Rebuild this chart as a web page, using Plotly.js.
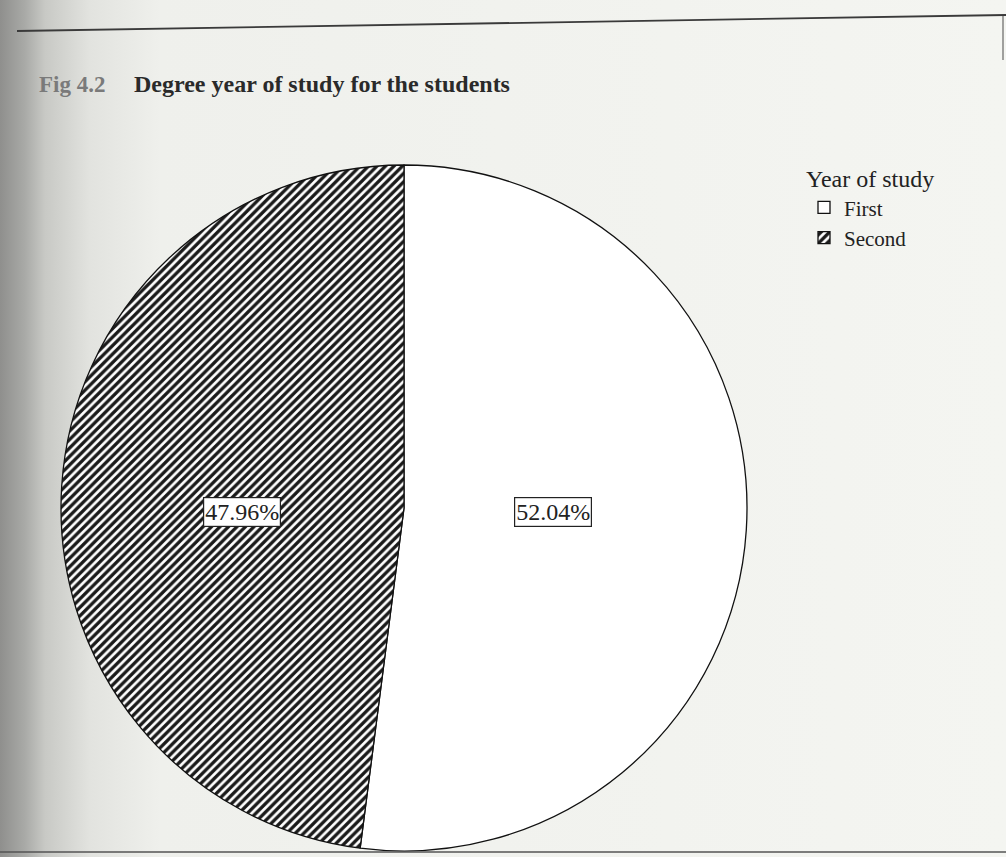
<!DOCTYPE html>
<html>
<head>
<meta charset="utf-8">
<script src="https://cdn.plot.ly/plotly-3.0.1.min.js"></script>
<style>
html,body{margin:0;padding:0;}
body{width:1006px;height:857px;background:linear-gradient(to right,#8f8f8d 0px,#a9aaa7 25px,#c8c9c5 45px,#e2e3df 90px,#eff0ec 160px,#f4f5f1 100%);}
#chart{width:1006px;height:857px;}
</style>
</head>
<body>
<div id="chart"></div>
<script>
const categories = ["First", "Second"];
const percentages = [52.04, 47.96];
const legendTitle = "Year of study";
const figLabel = "Fig 4.2";
const chartTitle = "Degree year of study for the students";

const W = 1006, H = 857;
const domX = [61 / W, 747 / W];
const domY = [6 / H, 692 / H];

// label positions derived from the data (slice centroid distance along mid-angle)
const total = percentages.reduce((a, b) => a + b, 0);
const cx = (domX[0] + domX[1]) / 2, cy = (domY[0] + domY[1]) / 2;
const rx = (domX[1] - domX[0]) / 2;
let cum = 0;
const labelAnns = percentages.map((v, i) => {
  const theta = v / total * 2 * Math.PI;
  const mid = cum / total * 2 * Math.PI + theta / 2;
  cum += v;
  const rr = 1.07 * 4 * Math.sin(theta / 2) / (3 * theta);
  return {
    x: cx + rr * rx * Math.sin(mid), y: cy - 4 / H,
    xref: 'paper', yref: 'paper', xanchor: 'center', yanchor: 'middle', showarrow: false,
    text: v.toFixed(2) + '%',
    font: {family: 'Liberation Serif, Times New Roman, serif', size: 24, color: '#222'},
    bgcolor: 'white', bordercolor: '#222', borderwidth: 1.2, borderpad: 1
  };
});

const serif = 'Liberation Serif, Times New Roman, serif';

const trace = {
  type: 'pie',
  labels: categories,
  values: percentages,
  sort: false,
  direction: 'clockwise',
  rotation: 0,
  textinfo: 'none',
  hoverinfo: 'label+percent',
  domain: {x: domX, y: domY},
  marker: {
    colors: ['white', 'white'],
    line: {color: '#111', width: 1.3},
    pattern: {
      shape: ['', '/'],
      fgcolor: '#1a1a1a',
      bgcolor: 'white',
      size: 6,
      solidity: 0.55
    }
  }
};

const layout = {
  width: W, height: H,
  margin: {l: 0, r: 0, t: 0, b: 0},
  paper_bgcolor: 'rgba(0,0,0,0)',
  plot_bgcolor: 'rgba(0,0,0,0)',
  showlegend: true,
  legend: {
    x: 804 / W, y: 1 - 156 / H, xanchor: 'left', yanchor: 'top',
    bgcolor: 'rgba(0,0,0,0)',
    title: {text: legendTitle, font: {family: serif, size: 24, color: '#222'}},
    font: {family: serif, size: 21, color: '#222'},
    itemwidth: 30, tracegroupgap: 0
  },
  annotations: [
    {x: 37 / W, y: 1 - 84 / H, xref: 'paper', yref: 'paper', xanchor: 'left', yanchor: 'middle',
     showarrow: false, text: '<b>' + figLabel + '</b>',
     font: {family: serif, size: 23, color: '#7a7a7a'}},
    {x: 132 / W, y: 1 - 84 / H, xref: 'paper', yref: 'paper', xanchor: 'left', yanchor: 'middle',
     showarrow: false, text: '<b>' + chartTitle + '</b>',
     font: {family: serif, size: 24, color: '#2a2a2a'}}
  ].concat(labelAnns),
  shapes: [
    {type: 'line', xref: 'paper', yref: 'paper', x0: 17 / W, x1: 1, y0: 1 - 31 / H, y1: 1 - 15 / H,
     line: {color: '#3a3a3a', width: 1.8}},
    {type: 'line', xref: 'paper', yref: 'paper', x0: 1003 / W, x1: 1003 / W, y0: 1 - 16 / H, y1: 1 - 60 / H,
     line: {color: '#666', width: 1.2}},
    {type: 'line', xref: 'paper', yref: 'paper', x0: 0, x1: 1, y0: 1 - 852 / H, y1: 1 - 852 / H,
     line: {color: '#555', width: 1.5}}
  ]
};

Plotly.newPlot('chart', [trace], layout, {displayModeBar: false});
</script>
</body>
</html>
